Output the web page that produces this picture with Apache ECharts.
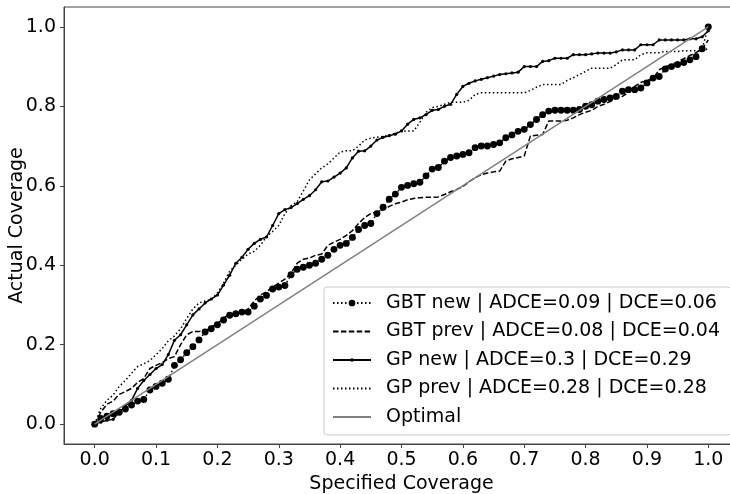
<!DOCTYPE html>
<html>
<head>
<meta charset="utf-8">
<script src="https://cdn.jsdelivr.net/npm/echarts@6/dist/echarts.min.js"></script>
<style>html,body{margin:0;padding:0;background:#fff}#c{width:730px;height:494px}</style>
</head>
<body>
<div id="c"></div>
<script>
// Specified coverage (x) shared by the four curves
const specified = [0.00,0.01,0.02,0.03,0.04,0.05,0.06,0.07,0.08,0.09,0.10,0.11,0.12,0.13,0.14,0.15,0.16,0.17,0.18,0.19,0.20,0.21,0.22,0.23,0.24,0.25,0.26,0.27,0.28,0.29,0.30,0.31,0.32,0.33,0.34,0.35,0.36,0.37,0.38,0.39,0.40,0.41,0.42,0.43,0.44,0.45,0.46,0.47,0.48,0.49,0.50,0.51,0.52,0.53,0.54,0.55,0.56,0.57,0.58,0.59,0.60,0.61,0.62,0.63,0.64,0.65,0.66,0.67,0.68,0.69,0.70,0.71,0.72,0.73,0.74,0.75,0.76,0.77,0.78,0.79,0.80,0.81,0.82,0.83,0.84,0.85,0.86,0.87,0.88,0.89,0.90,0.91,0.92,0.93,0.94,0.95,0.96,0.97,0.98,0.99,1.00];

const gbtNew = [0,0.014,0.02,0.026,0.03,0.038,0.048,0.058,0.062,0.086,0.095,0.103,0.113,0.148,0.162,0.18,0.195,0.212,0.232,0.24,0.25,0.262,0.274,0.278,0.282,0.282,0.297,0.315,0.324,0.34,0.345,0.349,0.376,0.39,0.395,0.40,0.405,0.415,0.425,0.44,0.45,0.455,0.47,0.49,0.50,0.505,0.53,0.546,0.566,0.579,0.596,0.601,0.605,0.609,0.625,0.642,0.646,0.662,0.671,0.675,0.679,0.683,0.696,0.70,0.70,0.704,0.708,0.721,0.728,0.737,0.742,0.754,0.767,0.779,0.788,0.79,0.79,0.79,0.79,0.792,0.80,0.804,0.813,0.817,0.821,0.825,0.838,0.842,0.842,0.846,0.859,0.871,0.875,0.894,0.90,0.905,0.91,0.917,0.925,0.945,1.0];

const gbtPrev = [0,0.03,0.05,0.058,0.075,0.082,0.09,0.105,0.115,0.14,0.148,0.155,0.165,0.17,0.20,0.225,0.233,0.233,0.235,0.245,0.252,0.268,0.275,0.278,0.28,0.29,0.31,0.325,0.333,0.345,0.355,0.365,0.38,0.405,0.415,0.418,0.425,0.428,0.45,0.458,0.465,0.475,0.487,0.505,0.52,0.53,0.535,0.54,0.548,0.555,0.559,0.565,0.568,0.57,0.571,0.571,0.572,0.578,0.585,0.591,0.598,0.61,0.62,0.628,0.632,0.635,0.637,0.662,0.668,0.671,0.675,0.725,0.727,0.729,0.763,0.763,0.763,0.765,0.771,0.779,0.785,0.79,0.80,0.805,0.812,0.82,0.825,0.835,0.85,0.86,0.865,0.87,0.892,0.90,0.905,0.912,0.92,0.928,0.935,0.945,0.967];

const gpNew = [0,0.005,0.01,0.012,0.03,0.045,0.06,0.09,0.11,0.125,0.14,0.15,0.175,0.211,0.225,0.25,0.275,0.29,0.305,0.315,0.325,0.35,0.375,0.405,0.42,0.44,0.455,0.465,0.471,0.50,0.53,0.54,0.545,0.555,0.566,0.575,0.59,0.61,0.612,0.622,0.632,0.645,0.67,0.687,0.688,0.70,0.715,0.722,0.726,0.73,0.738,0.755,0.767,0.771,0.779,0.79,0.792,0.80,0.805,0.83,0.85,0.858,0.864,0.868,0.872,0.876,0.88,0.882,0.884,0.886,0.90,0.90,0.90,0.913,0.915,0.921,0.921,0.921,0.93,0.93,0.93,0.932,0.934,0.934,0.934,0.937,0.942,0.942,0.942,0.955,0.955,0.955,0.967,0.967,0.967,0.967,0.967,0.97,0.97,0.975,0.99];

const gpPrev = [0,0.04,0.06,0.073,0.095,0.11,0.128,0.145,0.152,0.16,0.175,0.19,0.21,0.222,0.24,0.266,0.29,0.305,0.31,0.314,0.33,0.355,0.385,0.40,0.415,0.428,0.435,0.45,0.472,0.485,0.50,0.53,0.55,0.56,0.587,0.615,0.63,0.645,0.655,0.67,0.685,0.688,0.688,0.70,0.715,0.72,0.722,0.724,0.728,0.732,0.738,0.738,0.738,0.76,0.785,0.797,0.80,0.805,0.81,0.81,0.81,0.815,0.83,0.834,0.834,0.834,0.834,0.834,0.834,0.834,0.834,0.84,0.848,0.855,0.855,0.855,0.855,0.865,0.872,0.88,0.888,0.896,0.896,0.896,0.896,0.905,0.917,0.917,0.917,0.93,0.935,0.935,0.935,0.938,0.938,0.938,0.94,0.94,0.94,0.94,0.945];

const optimalX = [0, 1];
const optimalY = [0, 1];

const seriesNames = ['GBT new | ADCE=0.09 | DCE=0.06','GBT prev | ADCE=0.08 | DCE=0.04','GP new | ADCE=0.3 | DCE=0.29','GP prev | ADCE=0.28 | DCE=0.28','Optimal'];
const xTicks = [0,0.1,0.2,0.3,0.4,0.5,0.6,0.7,0.8,0.9,1.0];
const yTicks = [0,0.2,0.4,0.6,0.8,1.0];

const pair = (xs, ys) => xs.map((x, i) => [x, ys[i]]);
// circle marker occupying 60% of its box (lets legend + chart dot sizes match)
const dotPath = 'path://M0,0 M10,10 M5,2 A3,3 0 1,1 5,8 A3,3 0 1,1 5,2 Z';
const tinyPath = 'path://M0,0 M10,10 M5,3.4 A1.6,1.6 0 1,1 5,6.6 A1.6,1.6 0 1,1 5,3.4 Z';
const FONT = 'DejaVu Sans';
const FS = 19;
const dotted = [1.5, 2.5];
const dashed = [5.5, 2.4];

const chart = echarts.init(document.getElementById('c'), null, {renderer: 'canvas'});
chart.setOption({
  animation: false,
  backgroundColor: '#fff',
  grid: {left: 64, top: 7, right: -9, bottom: 50, show: true, borderColor: '#444', borderWidth: 1, backgroundColor: 'transparent', outerBoundsMode: 'none', containLabel: false},
  xAxis: {
    type: 'value', min: -0.05, max: 1.05,
    name: 'Specified Coverage', nameLocation: 'middle', nameGap: 25,
    nameTextStyle: {fontFamily: FONT, fontSize: FS, color: '#000'},
    axisLine: {show: true, onZero: false, lineStyle: {color: '#444', width: 1}},
    axisTick: {show: true, length: 4, lineStyle: {color: '#444'}, customValues: xTicks},
    axisLabel: {customValues: xTicks, fontFamily: FONT, fontSize: FS, color: '#000', margin: 7, formatter: v => v.toFixed(1)},
    splitLine: {show: false}
  },
  yAxis: {
    type: 'value', min: -0.05, max: 1.05,
    name: 'Actual Coverage', nameLocation: 'middle', nameGap: 37, nameMoveOverlap: false,
    nameTextStyle: {fontFamily: FONT, fontSize: FS, color: '#000'},
    axisLine: {show: true, onZero: false, lineStyle: {color: '#444', width: 1}},
    axisTick: {show: true, length: 4, lineStyle: {color: '#444'}, customValues: yTicks},
    axisLabel: {customValues: yTicks, fontFamily: FONT, fontSize: FS, color: '#000', margin: 8, formatter: v => v.toFixed(1)},
    splitLine: {show: false}
  },
  legend: {
    orient: 'vertical', left: 324, top: 287,
    itemWidth: 38, itemHeight: 14, itemGap: 9.5,
    padding: [6.5, 11, 8.5, 8],
    backgroundColor: 'rgba(255,255,255,0.85)', borderColor: '#cccccc', borderWidth: 1, borderRadius: 3,
    textStyle: {fontFamily: FONT, fontSize: FS, color: '#000', padding: [0, 0, 0, 10], lineHeight: 19},
    data: [
      {name: seriesNames[0]},
      {name: seriesNames[1], itemStyle: {opacity: 0}},
      {name: seriesNames[2]},
      {name: seriesNames[3], itemStyle: {opacity: 0}},
      {name: seriesNames[4], itemStyle: {opacity: 0}}
    ]
  },
  series: [
    {name: seriesNames[0], type: 'line', data: pair(specified, gbtNew), symbol: dotPath, symbolSize: 11.5, showSymbol: true,
     itemStyle: {color: '#000'}, lineStyle: {color: '#000', width: 1.5, type: dotted}, z: 3},
    {name: seriesNames[1], type: 'line', data: pair(specified, gbtPrev), symbol: 'none',
     itemStyle: {color: '#000'}, lineStyle: {color: '#000', width: 1.5, type: dashed}, z: 4},
    {name: seriesNames[2], type: 'line', data: pair(specified, gpNew), symbol: tinyPath, symbolSize: 10, showSymbol: true,
     itemStyle: {color: '#000'}, lineStyle: {color: '#000', width: 1.5, type: 'solid'}, z: 5},
    {name: seriesNames[3], type: 'line', data: pair(specified, gpPrev), symbol: 'none',
     itemStyle: {color: '#000'}, lineStyle: {color: '#000', width: 1.5, type: dotted}, z: 6},
    {name: seriesNames[4], type: 'line', data: pair(optimalX, optimalY), symbol: 'none',
     itemStyle: {color: '#808080'}, lineStyle: {color: '#808080', width: 1.5, type: 'solid'}, z: 7}
  ]
});
</script>
</body>
</html>
